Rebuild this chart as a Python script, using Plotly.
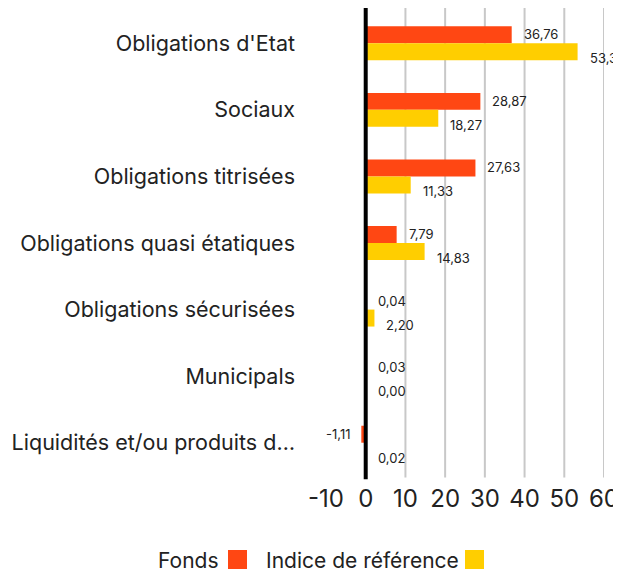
import plotly.graph_objects as go

categories = ["Obligations d'Etat", "Sociaux", "Obligations titrisées",
              "Obligations quasi étatiques", "Obligations sécurisées",
              "Municipals", "Liquidités et/ou produits d…"]
fonds = [36.76, 28.87, 27.63, 7.79, 0.04, 0.03, -1.11]
indice = [53.35, 18.27, 11.33, 14.83, 2.20, 0.00, 0.02]
series_names = ["Fonds", "Indice de référence"]
colors = ["#FF4713", "#FFCE00"]
x_ticks = [-10, 0, 10, 20, 30, 40, 50, 60]

FONT = "Inter"
W, H = 613, 565
ML, MR, MT, MB = 318, 17, 2, 97

fig = go.Figure()
for name, vals, col in zip(series_names, [fonds, indice], colors):
    fig.add_trace(go.Bar(y=categories, x=vals, orientation="h", name=name,
                         marker=dict(color=col, line=dict(width=0)),
                         showlegend=False))

def fmt(v):
    return f"{v:.2f}".replace(".", ",")

annotations = []
for vals, ysh in [(fonds, 9), (indice, -15)]:
    for cat, v in zip(categories, vals):
        neg = v < 0
        annotations.append(dict(
            x=v, y=cat, xref="x", yref="y", text=fmt(v), showarrow=False,
            xanchor="right" if neg else "left", xshift=-9 if neg else 10,
            yshift=ysh, font=dict(family=FONT, size=13, color="#222")))

px_w = W - ML - MR
px_h = H - MT - MB
def pxx(x):
    return (x - ML) / px_w
def pxy(y):
    return (H - MB - y) / px_h

# custom legend (text then swatch), in figure pixels
legend_items = [("Fonds", colors[0], 148, 220), ("Indice de référence", colors[1], 256, 457)]
shapes = []
for name, col, xt, xs in legend_items:
    annotations.append(dict(x=pxx(xt), y=pxy(552), xref="paper", yref="paper", text=name,
                            showarrow=False, xanchor="left", yanchor="middle",
                            font=dict(family=FONT, size=21, color="#222")))
    shapes.append(dict(type="rect", xref="paper", yref="paper",
                       x0=pxx(xs), x1=pxx(xs + 19), y0=pxy(561), y1=pxy(542),
                       fillcolor=col, line=dict(width=0)))

for t in x_ticks[2:]:
    shapes.append(dict(type="line", xref="x", yref="paper", x0=t, x1=t, y0=-0.003, y1=1.013,
                       line=dict(color="#C8C8C8", width=2), layer="below"))
shapes.append(dict(type="line", xref="x", yref="paper", x0=0, x1=0, y0=-0.007, y1=1.013,
                   line=dict(color="black", width=4), layer="above"))

fig.update_layout(
    width=W, height=H,
    margin=dict(l=ML, r=MR, t=MT, b=MB, autoexpand=False),
    paper_bgcolor="white", plot_bgcolor="white",
    barmode="group", bargap=0.49, bargroupgap=0,
    font=dict(family=FONT, color="#222"),
    annotations=annotations, shapes=shapes,
    xaxis=dict(range=[-10, 60], tickvals=x_ticks, ticktext=[str(t) for t in x_ticks],
               showgrid=False, zeroline=False, showline=False, automargin=False,
               tickfont=dict(size=24, family=FONT, color="#222"), ticks="",
               ticklabelstandoff=6),
    yaxis=dict(autorange="reversed", showgrid=False, showline=False, zeroline=False,
               automargin=False,
               ticks="", tickfont=dict(size=21.5, family=FONT, color="#222"),
               ticklabelstandoff=30),
)

fig.write_html("out.html")
